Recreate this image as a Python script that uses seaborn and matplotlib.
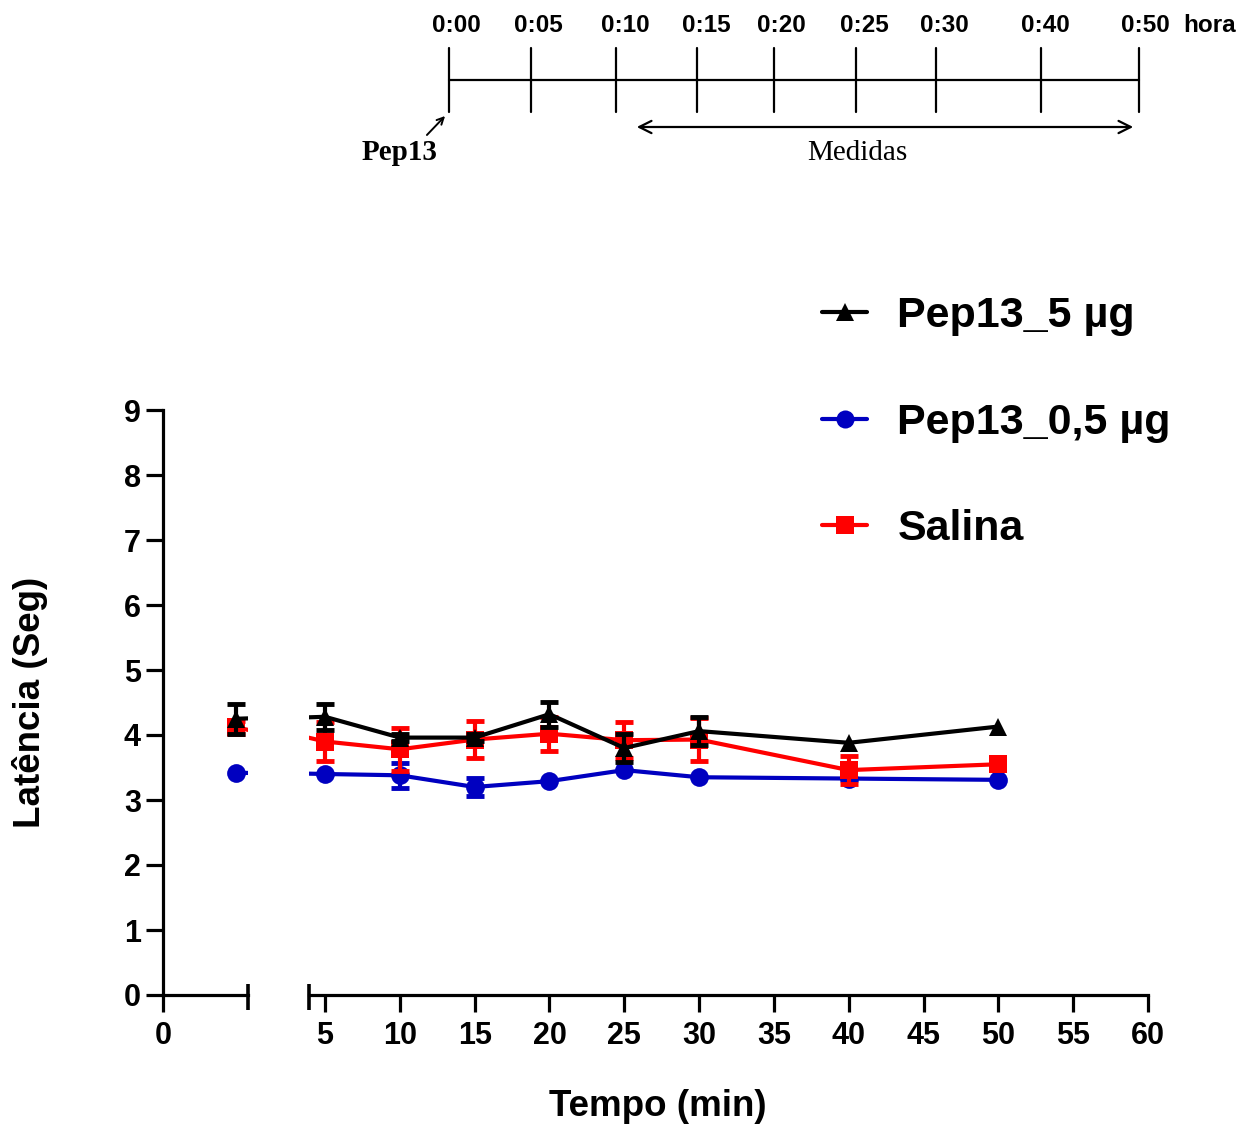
import matplotlib
matplotlib.use("Agg")
import matplotlib.pyplot as plt
from matplotlib.lines import Line2D
import numpy as np
import pandas as pd
import seaborn as sns

# ---------------- data ----------------
tempo = [5, 10, 15, 20, 25, 30, 40, 50]          # min
grupos = ["Pep13_5 µg", "Pep13_0,5 µg", "Salina"]
cores = {"Pep13_5 µg": "#000000", "Pep13_0,5 µg": "#0000C0", "Salina": "#FF0000"}
marcadores = {"Pep13_5 µg": "^", "Pep13_0,5 µg": "o", "Salina": "s"}

# baseline (before injection), mean and SEM
basal_media = {"Pep13_5 µg": 4.25, "Pep13_0,5 µg": 3.42, "Salina": 4.12}
basal_epm = {"Pep13_5 µg": 0.23, "Pep13_0,5 µg": 0.0, "Salina": 0.10}

pep5_media = [4.28, 3.96, 3.96, 4.32, 3.80, 4.06, 3.88, 4.13]
pep5_epm = [0.20, 0.05, 0.05, 0.19, 0.21, 0.22, 0.0, 0.0]
pep05_media = [3.40, 3.38, 3.20, 3.29, 3.46, 3.35, 3.33, 3.31]
pep05_epm = [0.0, 0.19, 0.14, 0.0, 0.0, 0.0, 0.0, 0.0]
sal_media = [3.90, 3.78, 3.93, 4.02, 3.92, 3.93, 3.46, 3.55]
sal_epm = [0.30, 0.33, 0.28, 0.26, 0.28, 0.33, 0.21, 0.0]

medias = {"Pep13_5 µg": pep5_media, "Pep13_0,5 µg": pep05_media, "Salina": sal_media}
epms = {"Pep13_5 µg": pep5_epm, "Pep13_0,5 µg": pep05_epm, "Salina": sal_epm}

# timeline schematic
linha_rotulos = ["0:00", "0:05", "0:10", "0:15", "0:20", "0:25", "0:30", "0:40", "0:50"]

# ---------------- style ----------------
sns.set_theme(style="ticks")
plt.rcParams["font.family"] = ["Liberation Sans", "DejaVu Sans"]
plt.rcParams["font.weight"] = "bold"
plt.rcParams["axes.linewidth"] = 2.3
for k in ("text.color", "axes.labelcolor", "xtick.color", "ytick.color", "axes.edgecolor"):
    plt.rcParams[k] = "black"

W, H = 1238, 1128
fig = plt.figure(figsize=(W / 100, H / 100), dpi=100)

# broken x axis: short segment for the baseline, long segment for the time course
y0_px, y9_px = 995, 410
ax_l = fig.add_axes([163 / W, (H - y0_px) / H, (248 - 163) / W, (y0_px - y9_px) / H])
ax_r = fig.add_axes([309 / W, (H - y0_px) / H, (1148 - 309) / W, (y0_px - y9_px) / H])

x_basal = 4.9      # position of the baseline point in the short segment
desloc = 4.0       # offset between the two segments (lines crossing the gap are clipped)

ordem = ["Pep13_0,5 µg", "Salina", "Pep13_5 µg"]
for z, g in enumerate(ordem):
    y = [basal_media[g]] + medias[g]
    e = [basal_epm[g]] + epms[g]
    x_r = [x_basal - desloc] + tempo
    x_l = [x_basal] + [t + desloc for t in tempo]
    for ax, xs in ((ax_l, x_l), (ax_r, x_r)):
        df = pd.DataFrame({"tempo": xs, "lat": y})
        sns.lineplot(data=df, x="tempo", y="lat", ax=ax, color=cores[g],
                     marker=marcadores[g], markersize=13.5, markeredgewidth=0,
                     linewidth=3, sort=False, errorbar=None, zorder=3 + 2 * z + 1)
        xe = [a for a, b in zip(xs, e) if b > 0]
        ye = [a for a, b in zip(y, e) if b > 0]
        ee = [b for b in e if b > 0]
        ax.errorbar(xe, ye, yerr=ee, fmt="none", ecolor=cores[g], elinewidth=3,
                    capsize=6.5, capthick=3.5, zorder=3 + 2 * z)

for ax in (ax_l, ax_r):
    ax.set_ylim(0, 9)
    ax.set_xlabel("")
    ax.set_ylabel("")
    ax.spines["top"].set_visible(False)
    ax.spines["right"].set_visible(False)
    ax.tick_params(axis="both", length=12, width=2.3, labelsize=22,
                   color="black", labelcolor="black")
    ax.tick_params(axis="y", pad=4)
    ax.tick_params(axis="x", pad=7)

ax_l.set_xlim(0, 5.67)
ax_l.set_xticks([0])
ax_l.set_yticks(range(0, 10))
ax_l.set_yticklabels([str(v) for v in range(0, 10)], fontsize=22, fontweight="bold")
ax_l.set_xticklabels(["0"], fontsize=22, fontweight="bold")

ax_r.set_xlim(3.93, 60)
ax_r.set_xticks(range(5, 61, 5))
ax_r.set_xticklabels([str(v) for v in range(5, 61, 5)], fontsize=22, fontweight="bold")
ax_r.spines["left"].set_visible(False)
ax_r.tick_params(axis="y", left=False, labelleft=False)

# break marks at the ends of the two segments
h_ax = y0_px - y9_px
for ax, xa in ((ax_l, 1.0), (ax_r, 0.0)):
    ax.plot([xa, xa], [-15 / h_ax, 11 / h_ax], transform=ax.transAxes,
            color="black", lw=2.6, clip_on=False, solid_capstyle="butt")

fig.text(30 / W, 1 - 702 / H, "Latência (Seg)", rotation=90, ha="center", va="center",
         fontsize=26.5, fontweight="bold", color="black")
fig.text(658 / W, 1 - 1107 / H, "Tempo (min)", ha="center", va="center",
         fontsize=26.5, fontweight="bold", color="black")

# legend
handles = [Line2D([], [], color=cores[g], marker=marcadores[g], markersize=13,
                  markeredgewidth=0, lw=3) for g in grupos]
fig.legend(handles, grupos, loc="upper left", bbox_to_anchor=(822 / W, 1 - 296 / H),
           frameon=False, prop={"weight": "bold", "size": 31},
           handlelength=1.05, handletextpad=0.7, labelspacing=1.55,
           borderpad=0, borderaxespad=0, labelcolor="black")

# ---------------- timeline schematic ----------------
tl = fig.add_axes([0, 0, 1, 1], zorder=-1)
tl.set_xlim(0, W)
tl.set_ylim(H, 0)
tl.axis("off")
marcas_px = [449, 531, 616, 697, 774, 856, 936, 1041, 1139]
rotulos_px = [456, 538, 625, 706, 781, 864, 944, 1045, 1145]
tl.plot([marcas_px[0], marcas_px[-1]], [80, 80], color="black", lw=1.6)
for xm, xr, lab in zip(marcas_px, rotulos_px, linha_rotulos):
    tl.plot([xm, xm], [48, 112], color="black", lw=1.6)
    tl.text(xr, 26, lab, ha="center", va="center", fontsize=17.5, fontweight="bold")
tl.text(1183, 26, "hora", ha="left", va="center", fontsize=17.5, fontweight="bold")
tl.annotate("", xy=(447, 114), xytext=(425, 137),
            arrowprops=dict(arrowstyle="->", color="black", lw=1.4))
tl.text(400, 152, "Pep13", ha="center", va="center", fontsize=21,
        fontweight="bold", family="Liberation Serif")
tl.annotate("", xy=(1136, 127), xytext=(634, 127),
            arrowprops=dict(arrowstyle="<->", color="black", lw=1.6, mutation_scale=22))
tl.text(857, 153, "Medidas", ha="center", va="center", fontsize=21,
        fontweight="normal", family="Liberation Serif")

fig.savefig("out.png", dpi=100)
